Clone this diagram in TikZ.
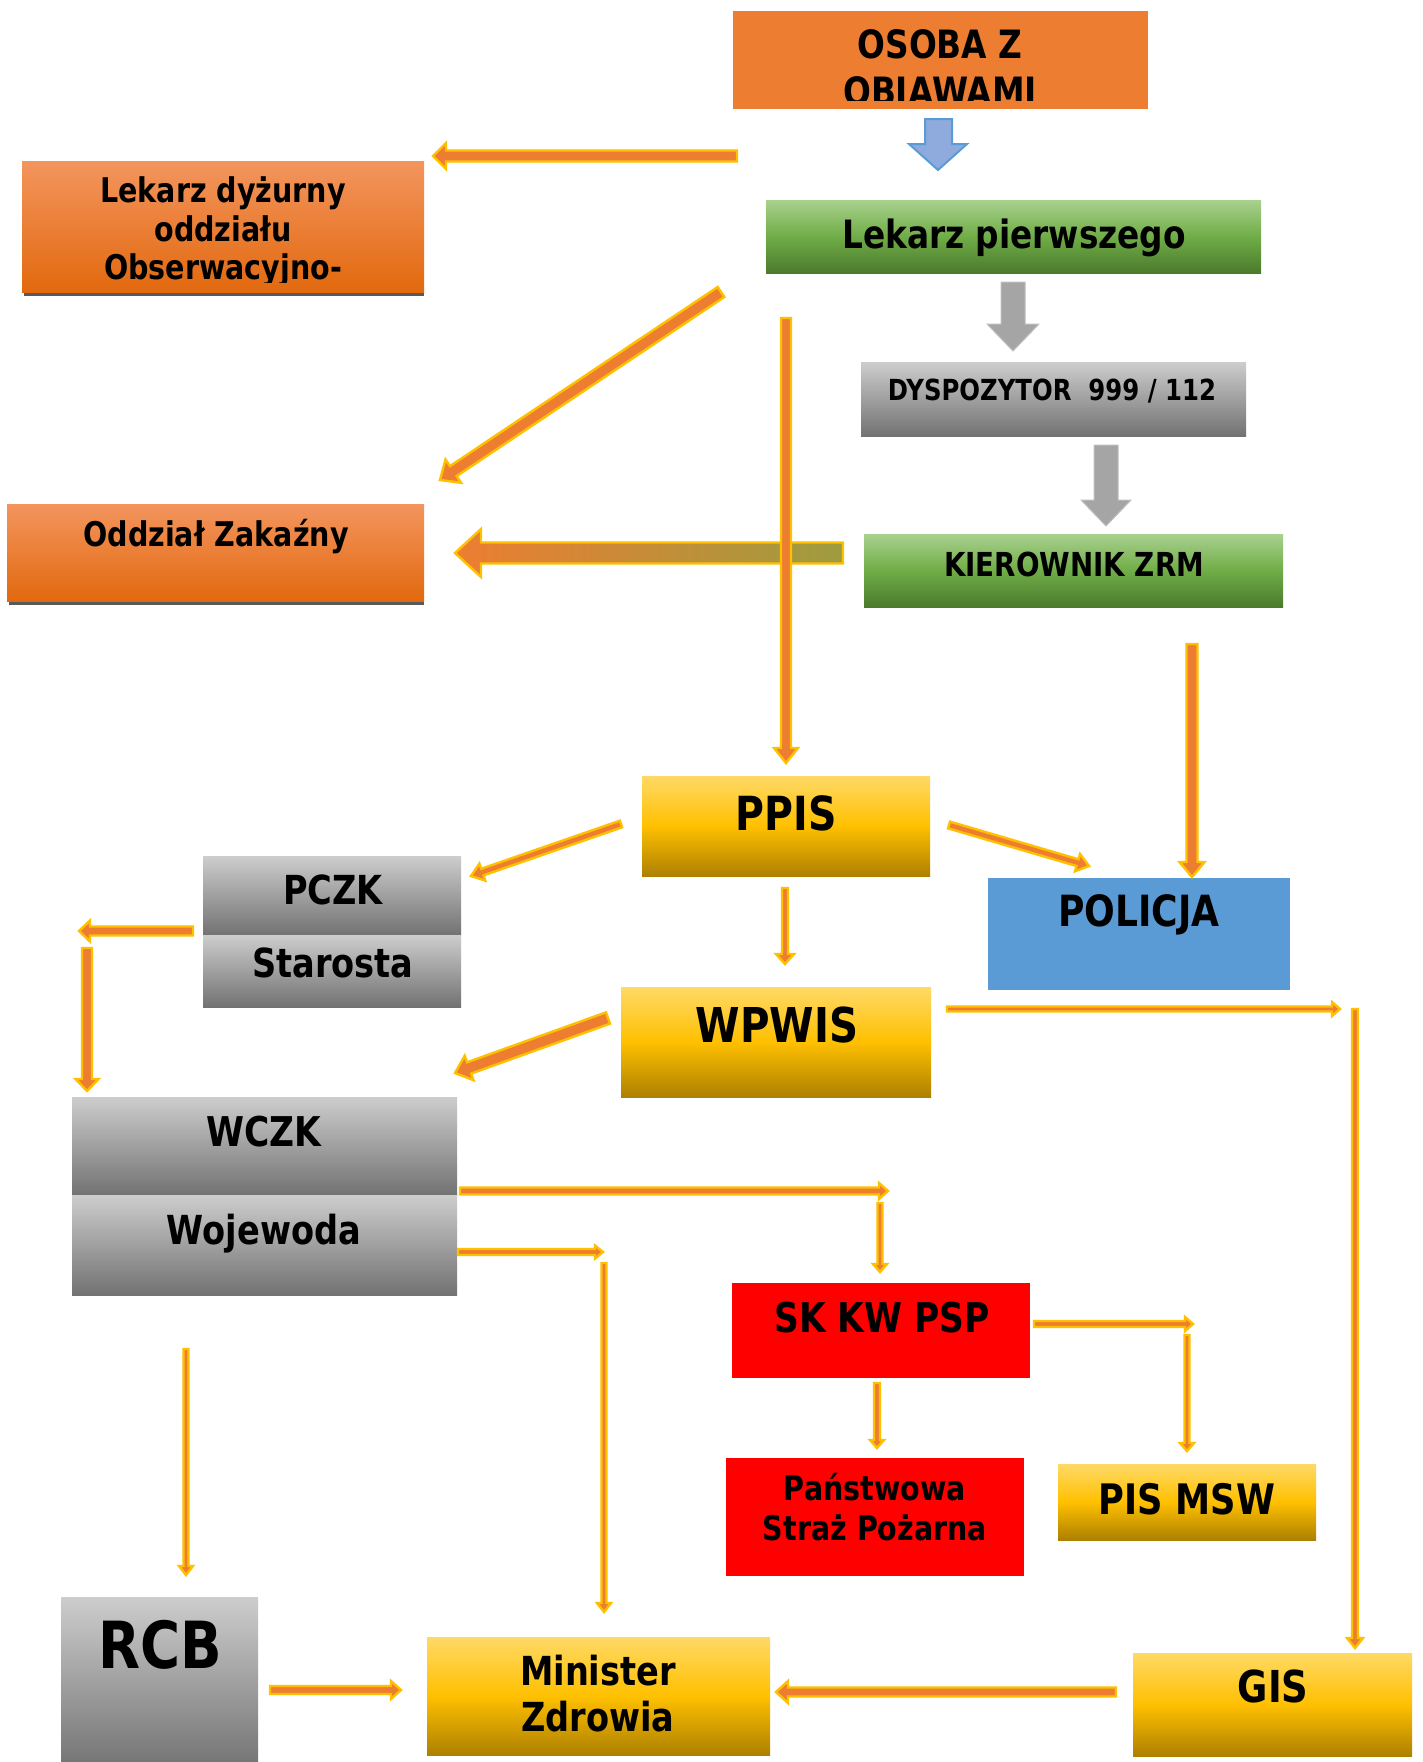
\documentclass[tikz,border=0pt]{standalone}
\usepackage{fontspec}
\setmainfont{DejaVu Sans}[FakeStretch=0.84]
\usetikzlibrary{calc,fit}
\definecolor{aorange}{HTML}{ED7D31}
\definecolor{agold}{HTML}{FFC000}
\definecolor{ylight}{HTML}{FFD966}
\definecolor{ydark}{HTML}{AD8000}
\definecolor{glight}{HTML}{A9D18E}
\definecolor{gmid}{HTML}{70AD47}
\definecolor{gdark}{HTML}{4B7A2C}
\definecolor{grlight}{HTML}{CDCDCD}
\definecolor{grdark}{HTML}{727272}
\definecolor{olight}{HTML}{F3955E}
\definecolor{odark}{HTML}{E2690E}
\definecolor{pblue}{HTML}{5B9BD5}
\definecolor{ablue}{HTML}{8FAADC}
\definecolor{olive}{HTML}{9E9C3F}
\definecolor{shadowgray}{HTML}{595959}
\definecolor{garrow}{HTML}{A5A5A5}
\definecolor{garrowline}{HTML}{BFBFBF}

\newcommand\bx[4][]{\node[box,#1,fit={(#3) (#4)}] (#2) {};}
\newcommand\T[5]{\node[txt,font=\fontsize{#4}{#4}\selectfont\bfseries] (#1) at (#2,#3) {#5};}
% \barrow[style]{start}{end}{half shaft}{half head}{head length}
\newcommand\barrow[6][]{%
  \coordinate (bh) at ($(#3)!#6!(#2)$);
  \filldraw[arr,#1] ($(#2)!#4!90:(#3)$) -- ($(bh)!#4!-90:(#2)$) -- ($(bh)!#5!-90:(#2)$) -- (#3)
     -- ($(bh)!#5!90:(#2)$) -- ($(bh)!#4!90:(#2)$) -- ($(#2)!#4!-90:(#3)$) -- cycle;
}

\begin{document}
\begin{tikzpicture}[x=1pt,y=-1pt,
  arr/.style={fill=aorange,draw=agold,line width=2.4pt,line join=miter},
  box/.style={inner sep=0pt,outer sep=0pt,draw=none},
  ybox/.style={box,top color=ylight,bottom color=ydark,middle color=agold},
  gbox/.style={box,top color=glight,bottom color=gdark,middle color=gmid},
  grbox/.style={box,top color=grlight,bottom color=grdark},
  obox/.style={box,top color=olight,bottom color=odark},
  txt/.style={inner sep=0pt,anchor=base,text=black}]
\useasboundingbox (0,0) rectangle (1422,1762);
\fill[white] (0,0) rectangle (1422,1762);

% ---------- boxes ----------
\bx[fill=aorange]{osoba}{733,11}{1148,109}
\fill[shadowgray] (24,290) rectangle (424,296);
\bx[obox]{dyz}{22,161}{424,292}
\bx[gbox]{lp}{766,200}{1261,273}
\bx[grbox]{dysp}{861,362}{1246,436}
\bx[gbox]{kier}{864,534}{1283,607}
\fill[shadowgray] (9,599) rectangle (424,605);
\bx[obox]{zak}{7,504}{424,601}
\bx[ybox]{ppis}{642,776}{930,876}
\bx[fill=pblue]{pol}{988,878}{1290,990}
\bx[grbox]{pczk}{203,856}{461,935}
\bx[grbox]{star}{203,935}{461,1007}
\bx[ybox]{wpwis}{621,987}{931,1097}
\bx[grbox]{wczk}{72,1097}{457,1195}
\bx[grbox]{woj}{72,1195}{457,1295}
\bx[fill=red]{sk}{732,1283}{1030,1378}
\bx[fill=red]{psp}{726,1458}{1024,1576}
\bx[ybox]{pis}{1058,1464}{1316,1540}
\bx[grbox]{rcb}{61,1597}{258,1770}
\bx[ybox]{min}{427,1637}{770,1755}
\bx[ybox]{gis}{1133,1653}{1412,1756}

% ---------- texts ----------
\begin{scope}
\clip (733,11) rectangle (1148,100);
\T{tosoba}{940}{58}{39}{OSOBA Z}
\T{tobjaw}{940}{105}{39}{OBJAWAMI}
\end{scope}
\begin{scope}
\clip (22,161) rectangle (424,282);
\T{tdyz1}{223}{202}{34}{Lekarz dyżurny}
\T{tdyz2}{223}{241}{34}{oddziału}
\T{tdyz3}{223}{279}{34}{Obserwacyjno-}
\end{scope}
\T{tlp}{1014}{248}{39}{Lekarz pierwszego}
\T{tdysp}{1052}{400}{29}{DYSPOZYTOR\ \ 999 / 112}
\T{tkier}{1074}{576}{33}{KIEROWNIK ZRM}
\T{tzak}{216}{546}{34}{Oddział Zakaźny}
\T{tppis}{786}{830}{47}{PPIS}
\T{tpol}{1139}{926}{43}{POLICJA}
\T{tpczk}{333}{904}{40}{PCZK}
\T{tstar}{333}{977}{40}{Starosta}
\T{twpwis}{777}{1042}{48}{WPWIS}
\T{twczk}{264}{1146}{41}{WCZK}
\T{twoj}{264}{1244}{40}{Wojewoda}
\T{tsk}{882}{1332}{41}{SK KW PSP}
\T{tpsp1}{875}{1500}{34}{Państwowa}
\T{tpsp2}{875}{1540}{34}{Straż Pożarna}
\T{tpis}{1187}{1514}{42}{PIS MSW}
\T{trcb}{160}{1668}{65}{RCB}
\T{tmin1}{598}{1685}{40}{Minister}
\T{tmin2}{598}{1731}{40}{Zdrowia}
\T{tgis}{1273}{1702}{44}{GIS}

% ---------- connector end points ----------
\coordinate (a1s) at (737,156);  \coordinate (a1e) at (433,156);
\coordinate (a2s) at (721,292);  \coordinate (a2e) at (440,480);
\coordinate (a4s) at (843,553);  \coordinate (a4e) at (455,553);
\coordinate (a3s) at (786,318);  \coordinate (a3e) at (786,763);
\coordinate (a5s) at (1192,644); \coordinate (a5e) at (1192,877);
\coordinate (a6s) at (949,825);  \coordinate (a6e) at (1089,866);
\coordinate (a7s) at (621,824);  \coordinate (a7e) at (471,876);
\coordinate (a8s) at (785,888);  \coordinate (a8e) at (785,964);
\coordinate (a9s) at (193,931);  \coordinate (a9e) at (79,931);
\coordinate (a10s) at (87,948);  \coordinate (a10e) at (87,1091);
\coordinate (a11s) at (608,1018); \coordinate (a11e) at (455,1073);
\coordinate (a12s) at (947,1009); \coordinate (a12e) at (1340,1009);
\coordinate (a13s) at (1355,1009); \coordinate (a13e) at (1355,1648);
\coordinate (a14s) at (460,1191); \coordinate (a14e) at (888,1191);
\coordinate (a15s) at (880,1203); \coordinate (a15e) at (880,1272);
\coordinate (a16s) at (458,1252); \coordinate (a16e) at (603,1252);
\coordinate (a17s) at (604,1263); \coordinate (a17e) at (604,1612);
\coordinate (a18s) at (1034,1324); \coordinate (a18e) at (1193,1324);
\coordinate (a19s) at (1187,1335); \coordinate (a19e) at (1187,1451);
\coordinate (a20s) at (877,1383); \coordinate (a20e) at (877,1448);
\coordinate (a21s) at (186,1349); \coordinate (a21e) at (186,1575);
\coordinate (a22s) at (270,1690); \coordinate (a22e) at (401,1690);
\coordinate (a23s) at (1116,1692); \coordinate (a23e) at (776,1692);

% ---------- block arrows ----------
\filldraw[fill=ablue,draw=pblue,line width=2pt,line join=miter]
  (925,119) -- (952,119) -- (952,144) -- (967,144) -- (938,170) -- (909,144) -- (925,144) -- cycle;
\filldraw[fill=garrow,draw=garrowline,line width=1pt]
  (1001,282) -- (1025,282) -- (1025,324) -- (1039,324) -- (1013,351) -- (987,324) -- (1001,324) -- cycle;
\filldraw[fill=garrow,draw=garrowline,line width=1pt]
  (1094,445) -- (1118,445) -- (1118,500) -- (1131,500) -- (1106,526) -- (1081,500) -- (1094,500) -- cycle;

\barrow{a1s}{a1e}{5.5pt}{13pt}{13pt}
\barrow{a2s}{a2e}{6pt}{14pt}{16pt}
\barrow[left color=aorange,middle color=aorange,right color=olive]{a4s}{a4e}{10.5pt}{24pt}{26pt}
\barrow{a3s}{a3e}{5pt}{12pt}{15pt}
\barrow{a5s}{a5e}{5.5pt}{12.5pt}{15pt}
\barrow{a6s}{a6e}{3.5pt}{9pt}{12pt}
\barrow{a7s}{a7e}{3.5pt}{9pt}{12pt}
\barrow{a8s}{a8e}{3pt}{9pt}{10pt}
\barrow{a9s}{a9e}{4.5pt}{10.5pt}{11pt}
\barrow{a10s}{a10e}{5pt}{11.5pt}{12pt}
\barrow{a11s}{a11e}{6pt}{13pt}{15pt}
\barrow{a12s}{a12e}{2.5pt}{7pt}{8pt}
\barrow{a13s}{a13e}{3pt}{8pt}{10pt}
\barrow{a14s}{a14e}{3.5pt}{8pt}{9pt}
\barrow{a15s}{a15e}{2.5pt}{7pt}{8pt}
\barrow{a16s}{a16e}{3pt}{6.5pt}{8pt}
\barrow{a17s}{a17e}{2.5pt}{7pt}{9pt}
\barrow{a18s}{a18e}{3pt}{7pt}{8pt}
\barrow{a19s}{a19e}{2.5pt}{7pt}{8pt}
\barrow{a20s}{a20e}{3pt}{7pt}{8pt}
\barrow{a21s}{a21e}{2.5pt}{7pt}{9pt}
\barrow{a22s}{a22e}{4pt}{9pt}{10pt}
\barrow{a23s}{a23e}{4.5pt}{11pt}{12pt}
\end{tikzpicture}
\end{document}
